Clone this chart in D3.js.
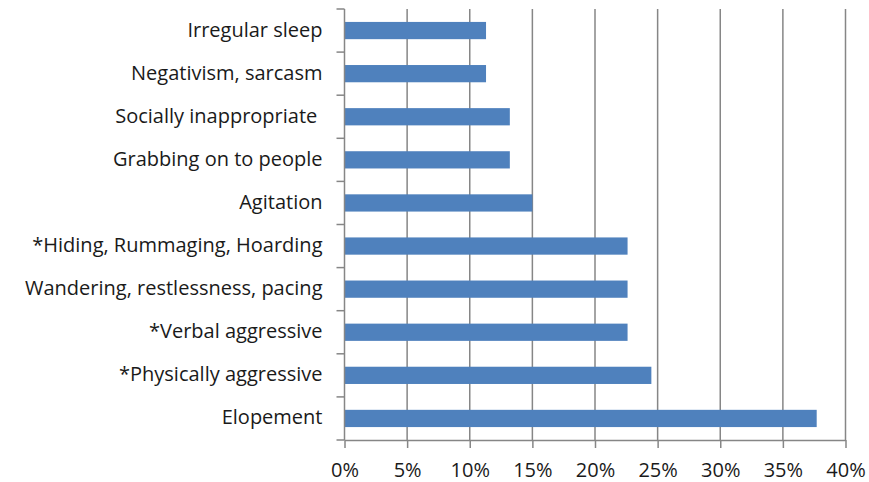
<!DOCTYPE html>
<html><head><meta charset="utf-8">
<script src="https://cdn.jsdelivr.net/npm/d3@7"></script>
<style>body{margin:0;background:#fff}svg{display:block}</style>
</head><body>
<svg id="c" width="869" height="482"></svg>
<script>
const categories = ["Irregular sleep","Negativism, sarcasm","Socially inappropriate ","Grabbing on to people","Agitation","*Hiding, Rummaging, Hoarding","Wandering, restlessness, pacing","*Verbal aggressive","*Physically aggressive","Elopement"];
const values = [11.3, 11.3, 13.2, 13.2, 15.0, 22.6, 22.6, 22.6, 24.5, 37.7];
const xTicks = [0,5,10,15,20,25,30,35,40];

const svg = d3.select("#c");
const L = 344.5, R = 845.5, T = 9, B = 440;
const x = d3.scaleLinear().domain([0,40]).range([L,R]);
const y = d3.scaleBand().domain(categories).range([T,B]).paddingInner(0.6).paddingOuter(0.3);
const font = "'Open Sans', sans-serif";
const grey = "#868686";
const fs = 20;

// gridlines
svg.append("g").selectAll("line").data(xTicks.slice(1)).join("line")
  .attr("x1", d=>x(d)).attr("x2", d=>x(d)).attr("y1", T).attr("y2", B)
  .attr("stroke", grey).attr("stroke-width", 1.5);

// bars
svg.append("g").selectAll("rect").data(values).join("rect")
  .attr("x", x(0)).attr("y", (d,i)=>y(categories[i]))
  .attr("width", d=>x(d)-x(0)).attr("height", y.bandwidth())
  .attr("fill", "#4F81BD");

// x axis
const xa = svg.append("g").attr("transform", `translate(0,${B})`)
  .call(d3.axisBottom(x).tickValues(xTicks).tickFormat(d=>d+"%").tickSize(8).tickPadding(14.5).tickSizeOuter(0));
xa.select(".domain").attr("stroke", grey).attr("stroke-width", 1.5);
xa.selectAll(".tick line").attr("stroke", grey).attr("stroke-width", 1.5);
xa.selectAll("text").attr("font-family", font).attr("font-size", fs).attr("fill", "#1a1a1a");

// y axis
const bounds = d3.range(categories.length+1).map(i=>T + i*(B-T)/categories.length);
const ya = svg.append("g");
ya.append("line").attr("x1", L).attr("x2", L).attr("y1", T).attr("y2", B).attr("stroke", grey).attr("stroke-width", 1.5);
ya.selectAll("line.t").data(bounds).join("line").attr("class","t")
  .attr("x1", L-8).attr("x2", L).attr("y1", d=>d).attr("y2", d=>d)
  .attr("stroke", grey).attr("stroke-width", 1.5);
ya.selectAll("text").data(categories).join("text")
  .attr("x", L-22).attr("y", d=>y(d)+y.bandwidth()/2).attr("dy", "0.3em")
  .attr("text-anchor", "end").attr("font-family", font).attr("font-size", fs).attr("fill", "#1a1a1a")
  .attr("xml:space","preserve")
  .text(d=>d);
</script>
</body></html>
